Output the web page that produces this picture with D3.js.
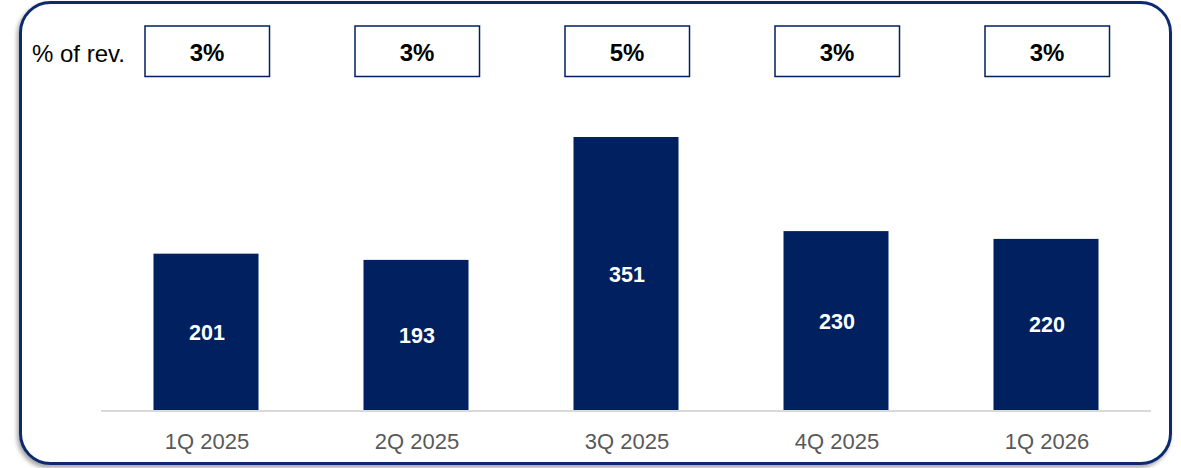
<!DOCTYPE html>
<html>
<head>
<meta charset="utf-8">
<script src="https://cdn.jsdelivr.net/npm/d3@7"></script>
<style>
  html, body { margin: 0; padding: 0; background: #fff; }
  svg { display: block; font-family: "Liberation Sans", Arial, sans-serif; }
</style>
</head>
<body>
<svg id="chart" width="1181" height="468"></svg>
<script>
// data
const quarters = ["1Q 2025", "2Q 2025", "3Q 2025", "4Q 2025", "1Q 2026"];
const values = [201, 193, 351, 230, 220];
const pctOfRev = ["3%", "3%", "5%", "3%", "3%"];

const svg = d3.select("#chart");
const navy = "#002060";

// shadow behind the frame
const defs = svg.append("defs");
const shadow = defs.append("filter").attr("id", "shadow")
  .attr("x", "-5%").attr("y", "-5%").attr("width", "110%").attr("height", "115%");
shadow.append("feDropShadow")
  .attr("dx", -2).attr("dy", 3).attr("stdDeviation", 2)
  .attr("flood-color", "#000").attr("flood-opacity", 0.35);

svg.append("rect")
  .attr("x", 20.5).attr("y", 2.5)
  .attr("width", 1150).attr("height", 461)
  .attr("rx", 30).attr("ry", 30)
  .attr("fill", "#fff")
  .attr("stroke", "#0b2b6e")
  .attr("stroke-width", 3)
  .attr("filter", "url(#shadow)");

const x = d3.scaleBand()
  .domain(quarters)
  .range([101, 1151])
  .paddingInner(0.5)
  .paddingOuter(0.25);

const y = d3.scaleLinear()
  .domain([0, 351])
  .range([410, 137]);

// baseline
svg.append("line")
  .attr("x1", 101).attr("x2", 1151)
  .attr("y1", 411).attr("y2", 411)
  .attr("stroke", "#d9d9d9").attr("stroke-width", 2);

const bars = svg.append("g")
  .selectAll("g")
  .data(quarters.map((q, i) => ({ q, v: values[i], p: pctOfRev[i] })))
  .enter()
  .append("g");

bars.append("rect")
  .attr("x", d => x(d.q))
  .attr("y", d => y(d.v))
  .attr("width", x.bandwidth())
  .attr("height", d => y(0) - y(d.v))
  .attr("fill", navy);

bars.append("text")
  .attr("x", d => x(d.q) + x.bandwidth() / 2 + 1)
  .attr("y", d => (y(d.v) + y(0)) / 2 + 1)
  .attr("text-anchor", "middle")
  .attr("dominant-baseline", "central")
  .attr("fill", "#fff")
  .attr("font-weight", "bold")
  .attr("font-size", 21.5)
  .text(d => d.v);

// axis labels
bars.append("text")
  .attr("x", d => x(d.q) + x.bandwidth() / 2 + 1)
  .attr("y", 441)
  .attr("text-anchor", "middle")
  .attr("dominant-baseline", "central")
  .attr("fill", "#595959")
  .attr("font-size", 22)
  .text(d => d.q);

// % of revenue boxes
bars.append("rect")
  .attr("x", d => x(d.q) + x.bandwidth() / 2 + 1 - 62)
  .attr("y", 26)
  .attr("width", 124.5)
  .attr("height", 50.5)
  .attr("fill", "#fff")
  .attr("stroke", navy)
  .attr("stroke-width", 1.5);

bars.append("text")
  .attr("x", d => x(d.q) + x.bandwidth() / 2 + 1)
  .attr("y", 52)
  .attr("text-anchor", "middle")
  .attr("dominant-baseline", "central")
  .attr("fill", "#000")
  .attr("font-weight", "bold")
  .attr("font-size", 24)
  .text(d => d.p);

svg.append("text")
  .attr("x", 32)
  .attr("y", 53)
  .attr("dominant-baseline", "central")
  .attr("fill", "#000")
  .attr("font-size", 24)
  .text("% of rev.");
</script>
</body>
</html>
